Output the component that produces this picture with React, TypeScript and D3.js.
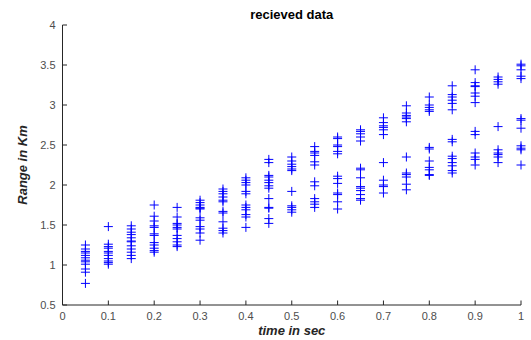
import React from "react";
import * as d3 from "d3";

const timeSec = [0.05, 0.1, 0.15, 0.2, 0.25, 0.3, 0.35, 0.4, 0.45, 0.5, 0.55, 0.6, 0.65, 0.7, 0.75, 0.8, 0.85, 0.9, 0.95, 1.0];

const rangeKm: number[][] = [
  [1.25, 1.2, 1.17, 1.15, 1.12, 1.09, 1.06, 1.04, 1.01, 0.95, 0.91, 0.77],
  [1.48, 1.26, 1.23, 1.21, 1.17, 1.15, 1.12, 1.08, 1.05, 1.03, 1.01],
  [1.49, 1.45, 1.41, 1.38, 1.34, 1.3, 1.29, 1.24, 1.2, 1.16, 1.12, 1.08],
  [1.75, 1.61, 1.55, 1.49, 1.47, 1.39, 1.37, 1.28, 1.25, 1.21, 1.18, 1.16],
  [1.72, 1.6, 1.52, 1.5, 1.47, 1.45, 1.37, 1.33, 1.29, 1.25, 1.23],
  [1.81, 1.78, 1.75, 1.72, 1.71, 1.7, 1.59, 1.56, 1.48, 1.45, 1.4, 1.31],
  [1.95, 1.92, 1.89, 1.85, 1.81, 1.79, 1.67, 1.65, 1.54, 1.46, 1.43, 1.4],
  [2.09, 2.06, 2.03, 2.0, 1.92, 1.89, 1.75, 1.72, 1.69, 1.63, 1.6, 1.47],
  [2.32, 2.28, 2.12, 2.1, 2.06, 2.03, 1.99, 1.96, 1.83, 1.72, 1.71, 1.58, 1.52],
  [2.35, 2.3, 2.26, 2.23, 2.2, 2.18, 1.92, 1.74, 1.72, 1.69, 1.66],
  [2.48, 2.42, 2.4, 2.37, 2.29, 2.25, 2.04, 1.99, 1.83, 1.79, 1.76, 1.72],
  [2.6, 2.58, 2.5, 2.48, 2.42, 2.39, 2.11, 2.08, 2.02, 1.9, 1.88, 1.79, 1.7],
  [2.69, 2.67, 2.64, 2.6, 2.55, 2.21, 2.19, 2.09, 1.98, 1.96, 1.93, 1.88, 1.83, 1.81],
  [2.84, 2.78, 2.74, 2.72, 2.69, 2.63, 2.28, 2.06, 2.0, 1.98, 1.9],
  [2.99, 2.9, 2.87, 2.85, 2.83, 2.79, 2.35, 2.15, 2.13, 2.1, 2.01, 1.94],
  [3.1, 3.0, 2.97, 2.94, 2.92, 2.47, 2.45, 2.3, 2.22, 2.19, 2.13, 2.12],
  [3.24, 3.13, 3.1, 3.06, 3.02, 2.94, 2.57, 2.54, 2.36, 2.33, 2.28, 2.24, 2.18, 2.15],
  [3.44, 3.28, 3.24, 3.23, 3.15, 3.11, 3.03, 2.67, 2.63, 2.4, 2.35, 2.32, 2.25],
  [3.35, 3.32, 3.29, 3.26, 2.73, 2.44, 2.4, 2.38, 2.35, 2.28],
  [3.51, 3.49, 3.44, 3.36, 3.33, 2.83, 2.81, 2.71, 2.49, 2.46, 2.44, 2.25],
];

const xTicks = [0, 0.1, 0.2, 0.3, 0.4, 0.5, 0.6, 0.7, 0.8, 0.9, 1];
const yTicks = [0.5, 1, 1.5, 2, 2.5, 3, 3.5, 4];

const titleText = "recieved data";
const xLabel = "time in sec";
const yLabel = "Range in Km";

export default function App() {
  const W = 531;
  const H = 340;
  const left = 62.5;
  const right = 521;
  const top = 25;
  const bottom = 305;
  const x = d3.scaleLinear().domain([0, 1]).range([left, right]);
  const y = d3.scaleLinear().domain([0.5, 4]).range([bottom, top]);
  const axisColor = "#262626";
  const font = "'Liberation Sans', Arial, sans-serif";
  const r = 4.5;
  const points: { t: number; v: number }[] = [];
  timeSec.forEach((t, i) => rangeKm[i].forEach((v) => points.push({ t, v })));

  return (
    <svg width={W} height={H} style={{ position: "absolute", left: 0, top: 0, background: "#fff" }} fontFamily={font}>
      <rect x={0} y={0} width={W} height={H} fill="#fff" />
      {/* axes */}
      <line x1={left} x2={left} y1={top} y2={bottom} stroke={axisColor} strokeWidth={1} />
      <line x1={left} x2={right} y1={bottom} y2={bottom} stroke={axisColor} strokeWidth={1} />
      {yTicks.map((t) => (
        <g key={"y" + t}>
          <line x1={left} x2={left + 4.5} y1={y(t)} y2={y(t)} stroke={axisColor} />
          <text x={left - 7} y={y(t)} dy="0.35em" textAnchor="end" fontSize={11} fill="#4d4d4d">
            {d3.format("")(t)}
          </text>
        </g>
      ))}
      {xTicks.map((t) => (
        <g key={"x" + t}>
          <line x1={x(t)} x2={x(t)} y1={bottom} y2={bottom - 4.5} stroke={axisColor} />
          <text x={x(t)} y={bottom + 15} textAnchor="middle" fontSize={11} fill="#4d4d4d">
            {d3.format("")(t)}
          </text>
        </g>
      ))}
      {/* points */}
      <g stroke="#0000ff" strokeWidth={1} fill="none">
        {points.map((p, i) => (
          <path key={i} d={`M${x(p.t) - r},${y(p.v)}H${x(p.t) + r}M${x(p.t)},${y(p.v) - r}V${y(p.v) + r}`} />
        ))}
      </g>
      {/* labels */}
      <text x={(left + right) / 2} y={19} textAnchor="middle" fontSize={13} fontWeight="bold" fill="#000">
        {titleText}
      </text>
      <text x={(left + right) / 2} y={335} textAnchor="middle" fontSize={13} fontWeight="bold" fontStyle="italic" fill="#262626">
        {xLabel}
      </text>
      <text
        transform={`translate(27,${(top + bottom) / 2}) rotate(-90)`}
        textAnchor="middle"
        fontSize={13}
        fontWeight="bold"
        fontStyle="italic"
        fill="#262626"
      >
        {yLabel}
      </text>
    </svg>
  );
}
